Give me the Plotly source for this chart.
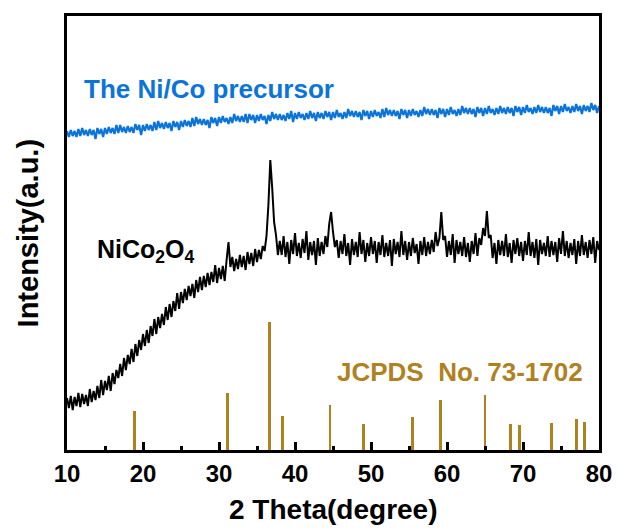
import numpy as np
import plotly.graph_objects as go

# ---------------- data ----------------
# 2-theta grid for the NiCo2O4 pattern (0.25 deg steps, 10..80)
two_theta_nico = np.arange(10, 80.0001, 0.25)
intensity_nico = [
    52, 42, 54, 40,  53, 44, 57, 43,  56, 46, 55, 44,  61, 48, 59, 50,
    64, 52, 70, 55,  69, 60, 74, 59,  77, 66, 80, 72,  86, 74, 92, 80,
    95, 86, 101, 88,  106, 94, 110, 100,  116, 104, 120, 107,  124, 114, 131, 116,
    133, 122, 136, 125,  143, 130, 146, 133,  149, 139, 157, 141,  158, 147, 161, 150,
    164, 154, 166, 152,  170, 158, 173, 160,  174, 163, 177, 165,  178, 168, 185, 167,
    182, 171, 184, 169,  190, 208, 183, 193,  179, 191, 181, 195,  183, 194, 180, 198,
    186, 197, 184, 201,  188, 200, 191, 204,  199, 214, 245, 290,  262, 228, 215, 195,
    209, 195, 214, 193,  208, 186, 210, 196,  217, 194, 207, 192,  211, 197, 219, 190,
    208, 195, 209, 185,  212, 194, 208, 196,  214, 203, 226, 238,  218, 203, 210, 192,
    209, 196, 216, 194,  207, 185, 211, 195,  208, 193, 218, 196,  210, 188, 207, 194,
    213, 196, 209, 187,  208, 195, 215, 193,  207, 194, 210, 184,  211, 196, 208, 193,
    219, 195, 209, 190,  208, 194, 212, 197,  206, 186, 209, 195,  213, 194, 208, 196,
    210, 198, 218, 204,  212, 238, 210, 214,  193, 209, 195, 216,  187, 210, 196, 208,
    194, 213, 193, 207,  188, 209, 196, 217,  194, 212, 205, 222,  214, 239, 212, 215,
    192, 207, 186, 210,  195, 209, 194, 216,  193, 207, 187, 210,  196, 212, 194, 208,
    189, 209, 195, 218,  194, 208, 192, 211,  185, 210, 196, 207,  194, 214, 193, 209,
    195, 208, 188, 212,  196, 219, 194, 209,  192, 207, 195, 211,  186, 209, 194, 215,
    195, 208, 192, 210,  196, 213, 187, 209,
    200,
]

# 2-theta grid for the Ni/Co precursor (0.25 deg steps, 10..80)
two_theta_prec = np.arange(10, 80.0001, 0.25)
intensity_prec = [
    319, 313, 320, 314,  319, 313, 321, 314,  322, 315, 320, 314,  321, 315, 320, 311,
    322, 316, 321, 313,  322, 316, 323, 317,  322, 316, 325, 317,  325, 318, 323, 317,
    324, 318, 323, 317,  326, 320, 325, 315,  325, 319, 326, 320,  325, 319, 328, 320,
    329, 322, 327, 321,  328, 322, 327, 319,  329, 323, 328, 320,  329, 323, 330, 324,
    329, 323, 332, 324,  333, 326, 331, 325,  331, 325, 330, 322,  333, 327, 332, 324,
    333, 327, 334, 328,  332, 326, 333, 327,  336, 329, 334, 328,  334, 328, 336, 327,
    336, 330, 335, 327,  335, 329, 336, 330,  334, 326, 335, 329,  338, 331, 336, 330,
    336, 330, 335, 329,  337, 331, 339, 328,  337, 331, 338, 332,  336, 330, 337, 331,
    339, 332, 337, 329,  338, 332, 337, 331,  339, 333, 338, 330,  338, 332, 340, 333,
    337, 331, 338, 332,  341, 334, 339, 333,  339, 333, 338, 330,  340, 334, 339, 331,
    339, 333, 340, 334,  338, 332, 341, 333,  342, 335, 340, 334,  340, 334, 339, 331,
    341, 335, 340, 332,  340, 334, 341, 335,  339, 333, 340, 334,  343, 336, 341, 335,
    341, 335, 340, 332,  342, 336, 341, 333,  341, 335, 343, 336,  340, 334, 341, 335,
    344, 337, 342, 336,  342, 336, 341, 333,  343, 337, 342, 334,  342, 336, 344, 337,
    341, 335, 342, 336,  344, 337, 342, 336,  343, 337, 342, 334,  344, 338, 343, 335,
    343, 337, 345, 338,  342, 336, 343, 337,  345, 338, 343, 337,  343, 337, 342, 334,
    345, 339, 344, 336,  344, 338, 346, 339,  343, 337, 344, 338,  346, 339, 344, 336,
    345, 339, 344, 338,  347, 340, 345, 337,
    344,
]

# JCPDS No. 73-1702 reference lines
jcpds_pos = [18.9, 31.1, 36.7, 38.4, 44.6, 49.0, 55.5, 59.1, 65.0, 68.4, 69.5, 73.8, 77.0, 78.1]
jcpds_int = [39, 57, 128, 34, 45, 26, 33, 50, 55, 26, 25, 27, 31, 28]

x_ticks = [10, 20, 30, 40, 50, 60, 70, 80]

BLUE = "#0B74DB"
GOLD = "#B0821F"
FONT = "Liberation Sans, Arial, Helvetica, sans-serif"

fig = go.Figure()

fig.add_trace(go.Bar(
    x=jcpds_pos, y=jcpds_int, width=0.38,
    marker=dict(color=GOLD, line=dict(width=0)),
    showlegend=False,
))

fig.add_trace(go.Scatter(
    x=two_theta_nico, y=intensity_nico, mode="lines",
    line=dict(color="black", width=2.0, simplify=False), showlegend=False,
))

fig.add_trace(go.Scatter(
    x=two_theta_prec, y=intensity_prec, mode="lines",
    line=dict(color=BLUE, width=2.2, simplify=False), showlegend=False,
))

fig.add_annotation(x=12.0, y=361, xref="x", yref="y", text="<b>The Ni/Co precursor</b>",
                   showarrow=False, xanchor="left", yanchor="middle",
                   font=dict(family=FONT, size=26, color=BLUE))
fig.add_annotation(x=13.64, y=199, xref="x", yref="y", text="<b>NiCo<sub>2</sub>O<sub>4</sub></b>",
                   showarrow=False, xanchor="left", yanchor="middle",
                   font=dict(family=FONT, size=25, color="black"))
fig.add_annotation(x=61.72, y=78, xref="x", yref="y", text="<b>JCPDS\u00a0 No. 73-1702</b>",
                   showarrow=False, xanchor="center", yanchor="middle",
                   font=dict(family=FONT, size=26, color=GOLD))

# axis titles as annotations
fig.add_annotation(x=0.5, y=-0.138, xref="paper", yref="paper", text="<b>2 Theta(degree)</b>",
                   showarrow=False, xanchor="center", yanchor="middle",
                   font=dict(family=FONT, size=28, color="black"))
fig.add_annotation(x=-0.0725, y=0.5, xref="paper", yref="paper", text="<b>Intensity(a.u.)</b>",
                   showarrow=False, xanchor="center", yanchor="middle", textangle=-90,
                   font=dict(family=FONT, size=29, color="black"))

fig.update_layout(
    width=624, height=531,
    margin=dict(l=67, r=19, t=16, b=81),
    paper_bgcolor="white", plot_bgcolor="white",
    bargap=0,
)

fig.update_xaxes(
    range=[10, 80], tickvals=x_ticks, ticktext=[str(v) for v in x_ticks],
    ticks="inside", ticklen=8, tickwidth=3, tickcolor="black",
    minor=dict(dtick=5, tick0=5, ticks="inside", ticklen=4, tickwidth=3, tickcolor="black"),
    showline=True, linewidth=3, linecolor="black", mirror=True,
    showgrid=False, zeroline=False,
    tickfont=dict(family=FONT, size=24, color="black", weight="bold"),
)
fig.update_yaxes(
    range=[0, 434], showticklabels=False, ticks="",
    showline=True, linewidth=3, linecolor="black", mirror=True,
    showgrid=False, zeroline=False,
)

fig.write_html("out.html")
